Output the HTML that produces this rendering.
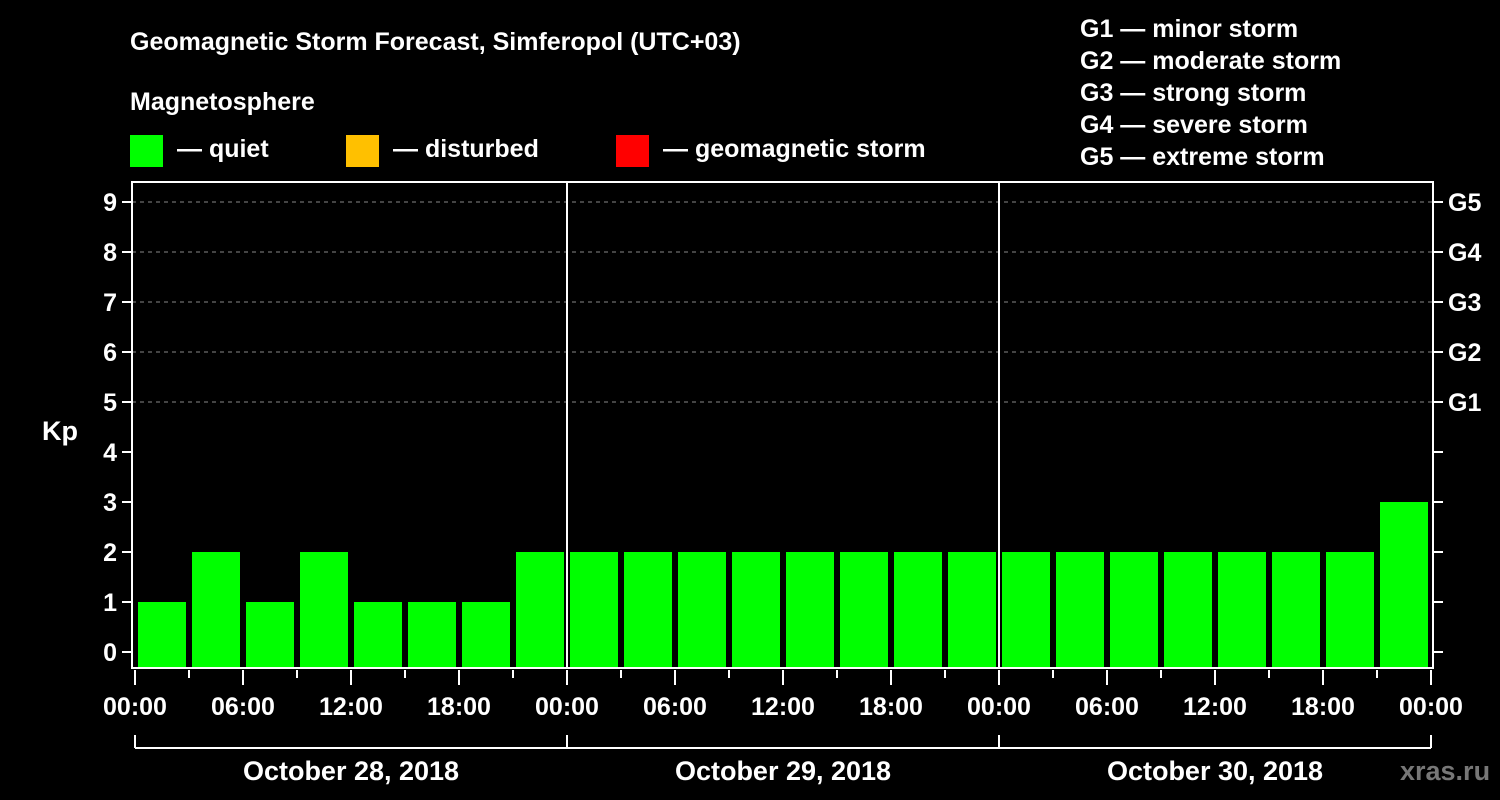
<!DOCTYPE html>
<html><head><meta charset="utf-8"><style>
body{margin:0;background:#000;}
svg{display:block;font-family:"Liberation Sans",sans-serif;font-weight:bold;}
</style></head><body>
<svg id="c" width="1500" height="800">
<rect width="1500" height="800" fill="#000"/>
<text x="130" y="50" fill="#fff" font-size="25">Geomagnetic Storm Forecast, Simferopol (UTC+03)</text>
<text x="130" y="110" fill="#fff" font-size="25">Magnetosphere</text>
<g><rect x="130" y="135" width="33" height="32" fill="#00ff00"/><text x="177" y="157" fill="#fff" font-size="25">— quiet</text></g>
<g><rect x="346" y="135" width="33" height="32" fill="#ffc000"/><text x="393" y="157" fill="#fff" font-size="25">— disturbed</text></g>
<g><rect x="616" y="135" width="33" height="32" fill="#ff0000"/><text x="663" y="157" fill="#fff" font-size="25">— geomagnetic storm</text></g>
<g fill="#fff" font-size="25">
<text x="1080" y="37">G1 — minor storm</text>
<text x="1080" y="69">G2 — moderate storm</text>
<text x="1080" y="101">G3 — strong storm</text>
<text x="1080" y="133">G4 — severe storm</text>
<text x="1080" y="165">G5 — extreme storm</text>
</g>
<text x="42" y="440" fill="#fff" font-size="27">Kp</text>
<text x="1400" y="780" fill="#777" font-size="27">xras.ru</text>
<g id="plot"></g>
</svg>
<script>
const kpValues=[1,2,1,2,1,1,1,2, 2,2,2,2,2,2,2,2, 2,2,2,2,2,2,2,3];
const dayLabels=["October 28, 2018","October 29, 2018","October 30, 2018"];
const hourLabels=["00:00","06:00","12:00","18:00"];
const yTicks=[0,1,2,3,4,5,6,7,8,9];
const gLabels=["G1","G2","G3","G4","G5"];
const X0=135,DAY=432,L=132,R=1433,T=182,B=668;
const xs=h=>X0+h*DAY/24;
const ys=v=>652-50*v;
const NS="http://www.w3.org/2000/svg";
const P=document.getElementById('plot');
function mk(t,a,txt){const e=document.createElementNS(NS,t);for(const k in a)e.setAttribute(k,a[k]);if(txt!=null)e.textContent=txt;P.appendChild(e);return e;}
// grid
for(let v=5;v<=9;v++){const e=mk('line',{x1:L,x2:R,y1:ys(v),y2:ys(v),stroke:'#888','stroke-dasharray':'4,4','stroke-width':1});

}
// bars
kpValues.forEach((v,i)=>{const x=xs(i*3);const e=mk('rect',{x:x+3,y:ys(v),width:48,height:B-ys(v),fill:'#00ff00'});

});
// frame
const f=mk('rect',{x:L,y:T,width:R-L,height:B-T,fill:'none',stroke:'#fff','stroke-width':2});


for(let d=1;d<3;d++){const e=mk('line',{x1:xs(d*24),x2:xs(d*24),y1:T,y2:B,stroke:'#fff','stroke-width':2});

}
// y ticks
yTicks.forEach(v=>{mk('line',{x1:L-10,x2:L,y1:ys(v),y2:ys(v),stroke:'#fff','stroke-width':2});
mk('line',{x1:R,x2:R+10,y1:ys(v),y2:ys(v),stroke:'#fff','stroke-width':2});
const t=mk('text',{x:L-15,y:ys(v)+9,fill:'#fff','font-size':25,'text-anchor':'end'},String(v));

});
gLabels.forEach((g,i)=>{const t=mk('text',{x:1448,y:ys(i+5)+9,fill:'#fff','font-size':25},g);

});
// x ticks
for(let h=0;h<=72;h+=3){const long=h%6==0;mk('line',{x1:xs(h),x2:xs(h),y1:B+2,y2:B+(long?17:10),stroke:'#fff','stroke-width':2});
if(long){const t=mk('text',{x:xs(h),y:B+47,fill:'#fff','font-size':25,'text-anchor':'middle'},hourLabels[(h/6)%4]);

}}
// day brackets
mk('line',{x1:xs(0),x2:xs(72),y1:748,y2:748,stroke:'#fff','stroke-width':2});
for(let d=0;d<=3;d++)mk('line',{x1:xs(d*24),x2:xs(d*24),y1:735,y2:748,stroke:'#fff','stroke-width':2});
dayLabels.forEach((s,d)=>{const t=mk('text',{x:xs(d*24+12),y:780,fill:'#fff','font-size':27,'text-anchor':'middle'},s);

});
</script>
</body></html>
